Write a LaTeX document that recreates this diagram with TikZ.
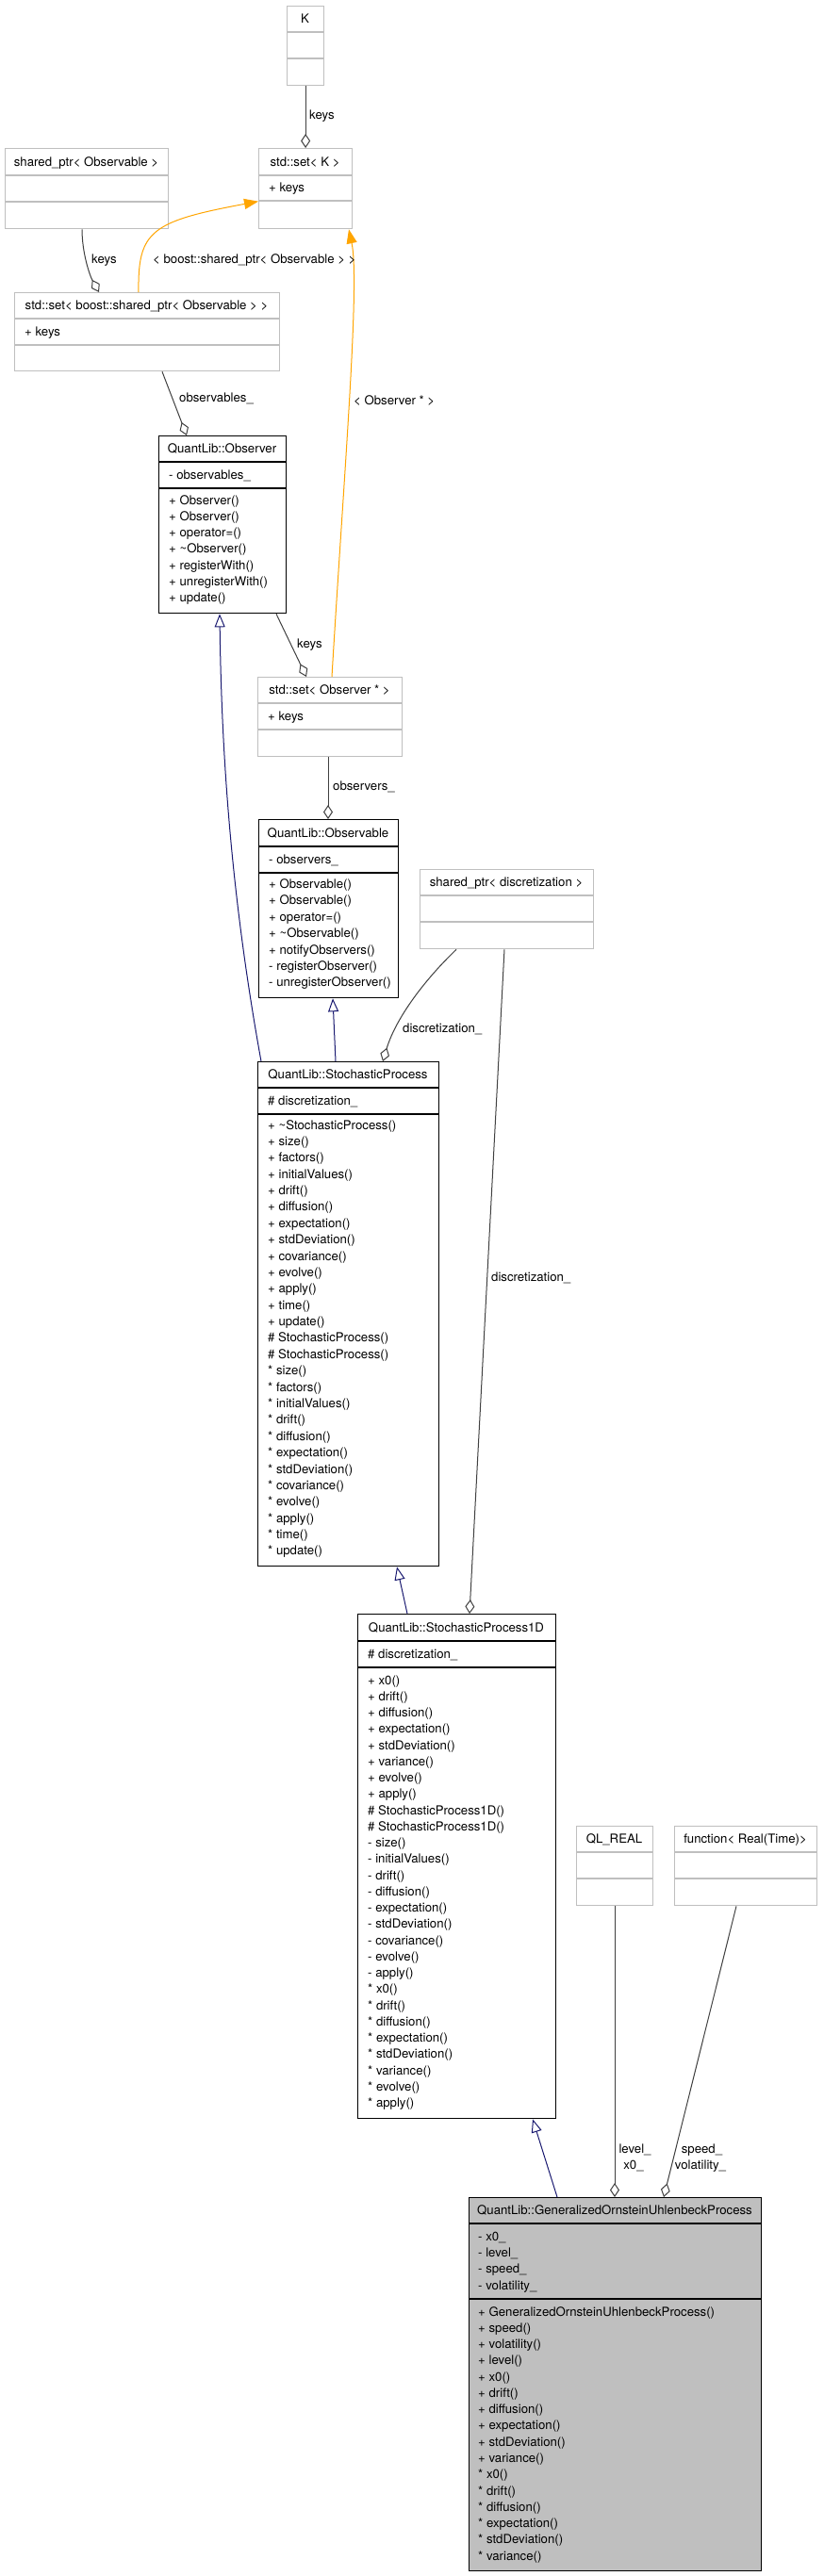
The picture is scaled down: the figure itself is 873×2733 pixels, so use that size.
\documentclass[tikz,border=0pt]{standalone}
\usepackage{fontspec}
\setmainfont{TeX Gyre Heros}
\usetikzlibrary{arrows.meta}
\definecolor{grey75}{HTML}{BFBFBF}
\definecolor{grey25}{HTML}{404040}
\definecolor{midblue}{HTML}{191970}
\definecolor{orng}{HTML}{FFA500}
\tikzset{
 txt/.style={font=\fontsize{13.2}{15}\selectfont, inner sep=0pt, text=black},
 grayclass/.style={draw=grey75, line width=1.3pt, fill=white, inner sep=0pt},
 docclass/.style={draw=black, line width=1.3pt, fill=white, inner sep=0pt},
 focusclass/.style={draw=black, line width=1.3pt, fill=grey75, inner sep=0pt},
 usage/.style={draw=grey25, line width=1pt, -{Diamond[open, length=15pt, width=10pt]}},
 inherit/.style={draw=midblue, line width=1pt, -{Triangle[open, length=14pt, width=11pt]}},
 templ/.style={draw=orng, line width=1pt, -{Triangle[length=15pt, width=11pt]}},
 elabel/.style={txt},
}
% name, x, y, w, h, divider1, divider2, style
\newcommand\ubox[8]{%
  \node[#8, anchor=north west, minimum width=#4pt, minimum height=#5pt] (#1) at (#2,#3) {};
  \draw[#8, fill=none] (#2,#6) -- ++(#4,0);
  \draw[#8, fill=none] (#2,#7) -- ++(#4,0);
}
% prefix, x, y-center of first line, dy, list
\newcommand\ulines[5]{%
  \foreach \itm [count=\i from 0] in {#5} {
    \node[txt, anchor=base west] (#1-\i) at (#2, #3+4+\i*#4) {\itm};
  }
}
\begin{document}
\begin{tikzpicture}[x=1pt,y=-1pt]
\useasboundingbox (0,0) rectangle (873,2733);
\fill[white] (0,0) rectangle (873,2733);

% ---------- boxes ----------
\ubox{K}{304}{6}{39}{84}{34}{62}{grayclass}
\ubox{setK}{274}{157}{99}{85}{186}{213}{grayclass}
\ubox{spObs}{5}{157}{173}{85}{186}{214}{grayclass}
\ubox{setSP}{15}{310}{281}{83}{338}{366}{grayclass}
\ubox{Observer}{168}{462}{135}{188}{490}{518}{docclass}
\ubox{setObsP}{273}{718}{153}{84}{746}{774}{grayclass}
\ubox{Observable}{274}{869}{148}{189}{898}{926}{docclass}
\ubox{spDisc}{445}{922}{184}{84}{950}{978}{grayclass}
\ubox{SP}{273}{1126}{192}{535}{1154}{1182}{docclass}
\ubox{SPoneD}{379}{1712}{210}{535}{1741}{1769}{docclass}
\ubox{QLREAL}{611}{1937}{81}{84}{1965}{1993}{grayclass}
\ubox{func}{715}{1937}{151}{84}{1965}{1993}{grayclass}
\ubox{GOUP}{497}{2331}{310}{396}{2359}{2439}{focusclass}

% ---------- titles ----------
\node[txt, anchor=base] (K-t) at (323.5,24.5) {K};
\node[txt, anchor=base] (setK-t) at (323.5,176) {std::set< K >};
\node[txt, anchor=base] (spObs-t) at (91.5,176) {shared\_ptr< Observable >};
\node[txt, anchor=base] (setSP-t) at (155.5,328.5) {std::set< boost::shared\_ptr< Observable > >};
\node[txt, anchor=base] (Observer-t) at (235.5,480.5) {QuantLib::Observer};
\node[txt, anchor=base] (setObsP-t) at (349.5,736.5) {std::set< Observer * >};
\node[txt, anchor=base] (Observable-t) at (348,888) {QuantLib::Observable};
\node[txt, anchor=base] (spDisc-t) at (537,940.5) {shared\_ptr< discretization >};
\node[txt, anchor=base] (SP-t) at (369,1144.5) {QuantLib::StochasticProcess};
\node[txt, anchor=base] (SPoneD-t) at (484,1731) {QuantLib::StochasticProcess1D};
\node[txt, anchor=base] (QLREAL-t) at (651.5,1955.5) {QL\_REAL};
\node[txt, anchor=base] (func-t) at (790.5,1955.5) {function< Real(Time)>};
\node[txt, anchor=base] (GOUP-t) at (652,2349.5) {QuantLib::GeneralizedOrnsteinUhlenbeckProcess};

% ---------- members ----------
\ulines{setK-a}{285}{199.5}{17.3}{+ keys}
\ulines{setSP-a}{26}{352}{17.3}{+ keys}
\ulines{setObsP-a}{284}{760}{17.3}{+ keys}
\ulines{Observer-a}{179}{504}{17.3}{- observables\_}
\ulines{Observer-m}{179}{531}{17.33}{+ Observer(),+ Observer(),+ operator=(),+ \textasciitilde Observer(),+ registerWith(),+ unregisterWith(),+ update()}
\ulines{Observable-a}{285}{912}{17.3}{- observers\_}
\ulines{Observable-m}{285}{938.5}{17.4}{+ Observable(),+ Observable(),+ operator=(),+ \textasciitilde Observable(),+ notifyObservers(),- registerObserver(),- unregisterObserver()}
\ulines{SP-a}{284}{1168}{17.3}{\# discretization\_}
\ulines{SP-m}{284}{1194}{17.38}{+ \textasciitilde StochasticProcess(),+ size(),+ factors(),+ initialValues(),+ drift(),+ diffusion(),+ expectation(),+ stdDeviation(),+ covariance(),+ evolve(),+ apply(),+ time(),+ update(),\# StochasticProcess(),\# StochasticProcess(),* size(),* factors(),* initialValues(),* drift(),* diffusion(),* expectation(),* stdDeviation(),* covariance(),* evolve(),* apply(),* time(),* update()}
\ulines{SPoneD-a}{390}{1755}{17.3}{\# discretization\_}
\ulines{SPoneD-m}{390}{1783}{17.25}{+ x0(),+ drift(),+ diffusion(),+ expectation(),+ stdDeviation(),+ variance(),+ evolve(),+ apply(),\# StochasticProcess1D(),\# StochasticProcess1D(),- size(),- initialValues(),- drift(),- diffusion(),- expectation(),- stdDeviation(),- covariance(),- evolve(),- apply(),* x0(),* drift(),* diffusion(),* expectation(),* stdDeviation(),* variance(),* evolve(),* apply()}
\ulines{GOUP-a}{507}{2373}{17.33}{- x0\_,- level\_,- speed\_,- volatility\_}
\ulines{GOUP-m}{507}{2453}{17.27}{+ GeneralizedOrnsteinUhlenbeckProcess(),+ speed(),+ volatility(),+ level(),+ x0(),+ drift(),+ diffusion(),+ expectation(),+ stdDeviation(),+ variance(),* x0(),* drift(),* diffusion(),* expectation(),* stdDeviation(),* variance()}

% ---------- connectors ----------
\draw[usage] (K.south) -- (setK.north);
\draw[usage] ([xshift=82pt]spObs.south west) .. controls (87,268) and (95,292) .. ([xshift=90pt]setSP.north west);
\draw[templ] ([xshift=132pt]setSP.north west) .. controls (146,245) and (160,235) .. ([yshift=-13.5pt]setK.west);
\draw[usage] ([xshift=157pt]setSP.south west) -- ([xshift=30pt]Observer.north west);
\draw[usage] ([xshift=125pt]Observer.south west) -- ([xshift=52pt]setObsP.north west);
\draw[templ] ([xshift=79pt]setObsP.north west) .. controls (365,500) and (382,300) .. ([xshift=96pt]setK.south west);
\draw[usage] ([xshift=75pt]setObsP.south west) -- ([xshift=74pt]Observable.north west);
\draw[inherit] ([xshift=83pt]SP.north west) -- ([xshift=79pt]Observable.south west);
\draw[inherit] ([xshift=4pt]SP.north west) .. controls (245,950) and (235,800) .. ([xshift=65pt]Observer.south west);
\draw[usage] ([xshift=39pt]spDisc.south west) .. controls (450,1040) and (420,1080) .. ([xshift=133pt]SP.north west);
\draw[usage] ([xshift=90pt]spDisc.south west) -- ([xshift=119pt]SPoneD.north west);
\draw[inherit] ([xshift=53pt]SPoneD.north west) -- ([xshift=148pt]SP.south west);
\draw[inherit] ([xshift=94pt]GOUP.north west) -- ([xshift=186pt]SPoneD.south west);
\draw[usage] ([xshift=41pt]QLREAL.south west) -- ([xshift=155pt]GOUP.north west);
\draw[usage] ([xshift=66pt]func.south west) -- ([xshift=207pt]GOUP.north west);

% ---------- connector labels ----------
\node[elabel, anchor=base west] (l-keys1) at (328,126) {keys};
\node[elabel, anchor=base west] (l-keys2) at (97,279) {keys};
\node[elabel, anchor=base west] (l-tmpl1) at (162,279) {< boost::shared\_ptr< Observable > >};
\node[elabel, anchor=base west] (l-obsv) at (190,426) {observables\_};
\node[elabel, anchor=base west] (l-keys3) at (315,687) {keys};
\node[elabel, anchor=base west] (l-tmpl2) at (375,429) {< Observer * >};
\node[elabel, anchor=base west] (l-obsr) at (353,838) {observers\_};
\node[elabel, anchor=base west] (l-disc1) at (427,1095) {discretization\_};
\node[elabel, anchor=base west] (l-disc2) at (521,1359) {discretization\_};
\node[elabel, anchor=base] (l-level) at (673.5,2284) {level\_};
\node[elabel, anchor=base] (l-x0) at (672,2301) {x0\_};
\node[elabel, anchor=base] (l-speed) at (744.5,2284) {speed\_};
\node[elabel, anchor=base] (l-vol) at (743,2301) {volatility\_};
\end{tikzpicture}
\end{document}
